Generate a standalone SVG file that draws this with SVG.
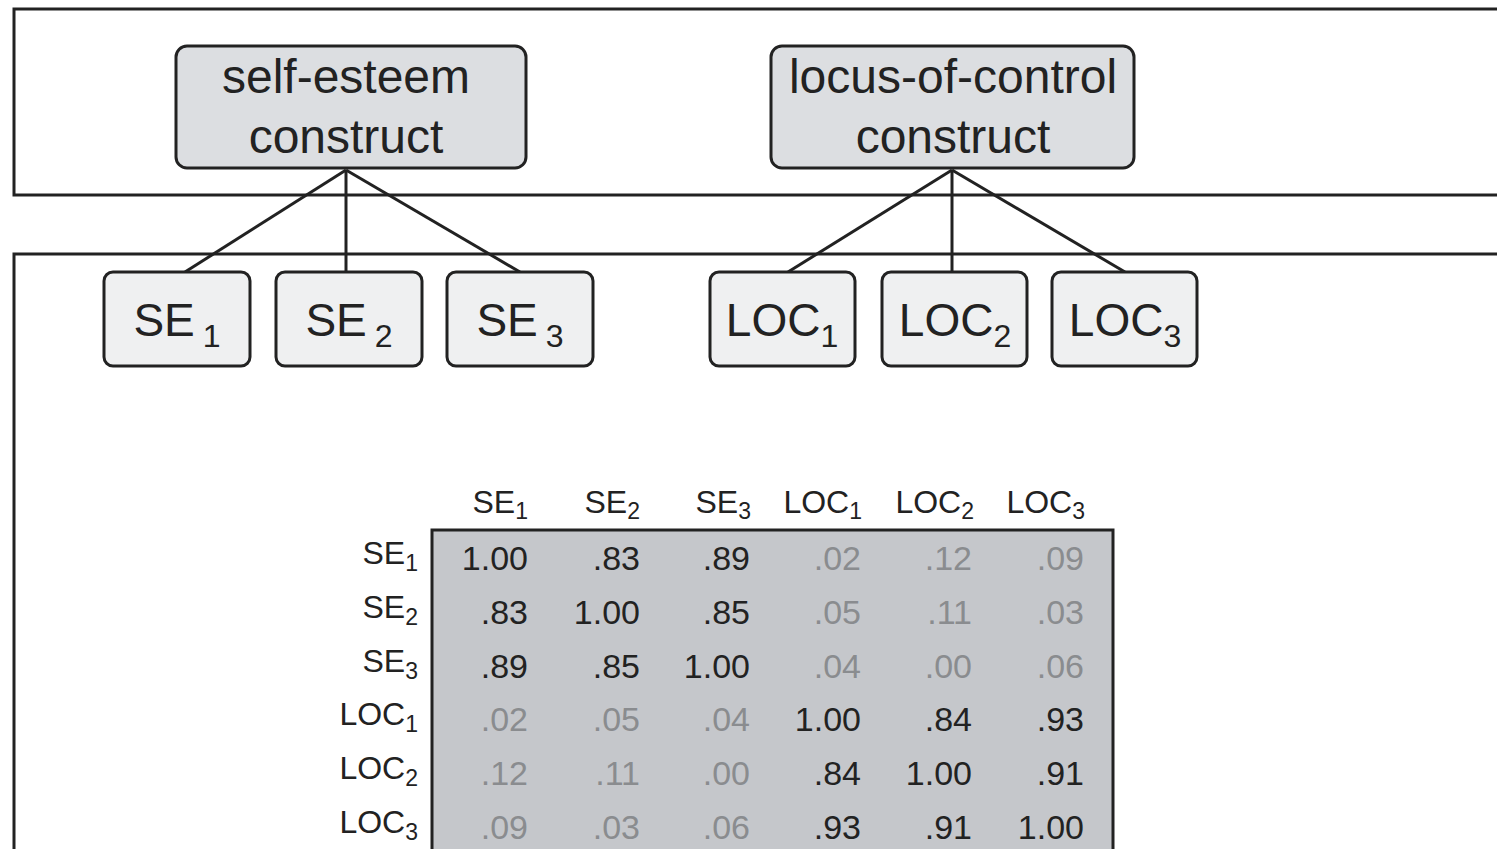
<svg xmlns="http://www.w3.org/2000/svg" width="1497" height="849" viewBox="0 0 1497 849">
<style>
text{font-family:"Liberation Sans",Arial,sans-serif;fill:#222}
.frame{fill:none;stroke:#222;stroke-width:3}
.big{fill:#dcdee1;stroke:#222;stroke-width:3}
.small{fill:#eff0f1;stroke:#222;stroke-width:3}
.conn{stroke:#222;stroke-width:3;fill:none}
.bt{font-size:48px;text-anchor:middle}
.nt{font-size:46px;text-anchor:middle}
.hd{font-size:32px;text-anchor:end}
.v{font-size:34px;text-anchor:end}
.g{fill:#8a8c8f}
</style>
<rect width="1497" height="849" fill="#fff"/>
<rect class="frame" x="14" y="9" width="1500" height="186"/>
<rect class="frame" x="14" y="254" width="1500" height="620"/>
<g id="connectors">
<line class="conn" x1="346" y1="170" x2="185" y2="272"/>
<line class="conn" x1="346" y1="170" x2="346" y2="272"/>
<line class="conn" x1="346" y1="170" x2="520" y2="272"/>
<line class="conn" x1="952" y1="170" x2="788" y2="272"/>
<line class="conn" x1="952" y1="170" x2="952" y2="272"/>
<line class="conn" x1="952" y1="170" x2="1125" y2="272"/>
</g>
<g id="self-esteem">
<rect class="big" x="176" y="46" width="350" height="122" rx="11"/>
<text class="bt" x="346" y="93">self-esteem</text>
<text class="bt" x="346" y="153">construct</text>
</g>
<g id="locus-of-control">
<rect class="big" x="771" y="46" width="363" height="122" rx="11"/>
<text class="bt" x="953" y="93">locus-of-control</text>
<text class="bt" x="953" y="153">construct</text>
</g>
<g id="SE1"><rect class="small" x="104" y="272" width="146" height="94" rx="9"/><text class="nt" x="177" y="336">SE<tspan dx="8" dy="11" font-size="32">1</tspan></text></g>
<g id="SE2"><rect class="small" x="276" y="272" width="146" height="94" rx="9"/><text class="nt" x="349" y="336">SE<tspan dx="8" dy="11" font-size="32">2</tspan></text></g>
<g id="SE3"><rect class="small" x="447" y="272" width="146" height="94" rx="9"/><text class="nt" x="520" y="336">SE<tspan dx="8" dy="11" font-size="32">3</tspan></text></g>
<g id="LOC1"><rect class="small" x="710" y="272" width="145" height="94" rx="9"/><text class="nt" x="782" y="336">LOC<tspan dy="11" font-size="32">1</tspan></text></g>
<g id="LOC2"><rect class="small" x="882" y="272" width="145" height="94" rx="9"/><text class="nt" x="955" y="336">LOC<tspan dy="11" font-size="32">2</tspan></text></g>
<g id="LOC3"><rect class="small" x="1052" y="272" width="145" height="94" rx="9"/><text class="nt" x="1125" y="336">LOC<tspan dy="11" font-size="32">3</tspan></text></g>
<g id="matrix">
<rect x="432" y="530" width="681" height="340" fill="#c5c7cb" stroke="#222" stroke-width="3"/>
<text class="hd" x="528" y="513">SE<tspan dy="6" font-size="23">1</tspan></text>
<text class="hd" x="640" y="513">SE<tspan dy="6" font-size="23">2</tspan></text>
<text class="hd" x="751" y="513">SE<tspan dy="6" font-size="23">3</tspan></text>
<text class="hd" x="862" y="513">LOC<tspan dy="6" font-size="23">1</tspan></text>
<text class="hd" x="974" y="513">LOC<tspan dy="6" font-size="23">2</tspan></text>
<text class="hd" x="1085" y="513">LOC<tspan dy="6" font-size="23">3</tspan></text>
<text class="hd" x="418" y="564">SE<tspan dy="7" font-size="23">1</tspan></text>
<text class="hd" x="418" y="618">SE<tspan dy="7" font-size="23">2</tspan></text>
<text class="hd" x="418" y="672">SE<tspan dy="7" font-size="23">3</tspan></text>
<text class="hd" x="418" y="725">LOC<tspan dy="7" font-size="23">1</tspan></text>
<text class="hd" x="418" y="779">LOC<tspan dy="7" font-size="23">2</tspan></text>
<text class="hd" x="418" y="833">LOC<tspan dy="7" font-size="23">3</tspan></text>
<g>
<text class="v" x="528" y="570">1.00</text><text class="v" x="640" y="570">.83</text><text class="v" x="750" y="570">.89</text><text class="v g" x="861" y="570">.02</text><text class="v g" x="972" y="570">.12</text><text class="v g" x="1084" y="570">.09</text>
<text class="v" x="528" y="624">.83</text><text class="v" x="640" y="624">1.00</text><text class="v" x="750" y="624">.85</text><text class="v g" x="861" y="624">.05</text><text class="v g" x="972" y="624">.11</text><text class="v g" x="1084" y="624">.03</text>
<text class="v" x="528" y="678">.89</text><text class="v" x="640" y="678">.85</text><text class="v" x="750" y="678">1.00</text><text class="v g" x="861" y="678">.04</text><text class="v g" x="972" y="678">.00</text><text class="v g" x="1084" y="678">.06</text>
<text class="v g" x="528" y="731">.02</text><text class="v g" x="640" y="731">.05</text><text class="v g" x="750" y="731">.04</text><text class="v" x="861" y="731">1.00</text><text class="v" x="972" y="731">.84</text><text class="v" x="1084" y="731">.93</text>
<text class="v g" x="528" y="785">.12</text><text class="v g" x="640" y="785">.11</text><text class="v g" x="750" y="785">.00</text><text class="v" x="861" y="785">.84</text><text class="v" x="972" y="785">1.00</text><text class="v" x="1084" y="785">.91</text>
<text class="v g" x="528" y="839">.09</text><text class="v g" x="640" y="839">.03</text><text class="v g" x="750" y="839">.06</text><text class="v" x="861" y="839">.93</text><text class="v" x="972" y="839">.91</text><text class="v" x="1084" y="839">1.00</text>
</g>
</g>
</svg>
